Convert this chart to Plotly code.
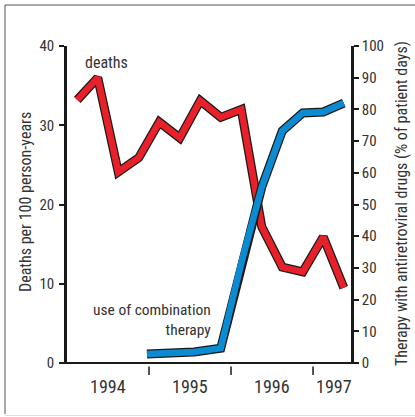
import plotly.graph_objects as go

# ---- data ----
death_x = [1994.125, 1994.375, 1994.625, 1994.875, 1995.125, 1995.375, 1995.625,
           1995.875, 1996.125, 1996.375, 1996.625, 1996.875, 1997.125, 1997.375]
deaths = [33.2, 36.0, 24.1, 25.9, 30.4, 28.4, 33.1, 31.0, 32.0, 17.2, 12.1, 11.5, 15.9, 9.5]

combo_x = [1994.975, 1995.55, 1995.875, 1996.125, 1996.375, 1996.625, 1996.875, 1997.125, 1997.375]
combo = [2.8, 3.5, 4.7, 31.5, 55.5, 73.2, 78.9, 79.2, 82.0]

year_labels = ["1994", "1995", "1996", "1997"]
year_label_pos = [1994.5, 1995.5, 1996.5, 1997.26]
year_ticks = [1995, 1996, 1997]

FONT = "Liberation Sans Narrow, Roboto Condensed, DejaVu Sans Condensed, Arial Narrow, sans-serif"
TXT = "#333333"
RED = "#E8202A"
BLUE = "#0A8BD2"

# ---- pixel geometry ----
W, H = 415, 417
L, R, T, B = 67, 351, 46, 363
pw, ph = R - L, B - T

def px(x):
    return (x - L) / pw

def py(y):
    return (B - y) / ph

fig = go.Figure()
fig.add_trace(go.Scatter(x=combo_x, y=combo, yaxis="y2", mode="lines",
                         line=dict(color="#1a1a1a", width=9), hoverinfo="skip", showlegend=False))
fig.add_trace(go.Scatter(x=combo_x, y=combo, yaxis="y2", mode="lines",
                         line=dict(color=BLUE, width=6.5), showlegend=False))
fig.add_trace(go.Scatter(x=death_x, y=deaths, mode="lines",
                         line=dict(color="#1a1a1a", width=9), hoverinfo="skip", showlegend=False))
fig.add_trace(go.Scatter(x=death_x, y=deaths, mode="lines",
                         line=dict(color=RED, width=6.5), showlegend=False))

annotations = []
for lab, pos in zip(year_labels, year_label_pos):
    annotations.append(dict(x=pos, xref="x", y=py(386), yref="paper", text=lab,
                            showarrow=False, xanchor="center", yanchor="middle",
                            font=dict(family=FONT, size=18, color=TXT)))
annotations += [
    dict(x=px(25), y=py(202), xref="paper", yref="paper", text="Deaths per 100 person-years",
         textangle=-90, showarrow=False, xanchor="center", yanchor="middle",
         font=dict(family=FONT, size=16, color=TXT)),
    dict(x=px(401), y=py(204), xref="paper", yref="paper",
         text="Therapy with antiretroviral drugs (% of patient days)",
         textangle=-90, showarrow=False, xanchor="center", yanchor="middle",
         font=dict(family=FONT, size=16, color=TXT)),
    dict(x=px(83), y=py(62), xref="paper", yref="paper", text="deaths",
         showarrow=False, xanchor="left", yanchor="middle",
         font=dict(family=FONT, size=16, color=TXT)),
    dict(x=px(213), y=py(320), xref="paper", yref="paper", text="use of combination<br>therapy",
         showarrow=False, xanchor="right", yanchor="middle", align="right",
         font=dict(family=FONT, size=15.5, color=TXT)),
]

shapes = [
    # frame
    dict(type="line", xref="paper", yref="paper", x0=px(5), x1=px(5), y0=py(414), y1=py(5),
         line=dict(color="#555555", width=1)),
    dict(type="line", xref="paper", yref="paper", x0=px(5), x1=px(420), y0=py(5), y1=py(5),
         line=dict(color="#555555", width=1)),
    dict(type="line", xref="paper", yref="paper", x0=px(5), x1=px(420), y0=py(415.5), y1=py(415.5),
         line=dict(color="#dddddd", width=1)),
    # extended x axis baseline
    dict(type="line", xref="paper", yref="paper", x0=px(63), x1=px(356), y0=0, y1=0,
         line=dict(color="#1a1a1a", width=2)),
]
# year-boundary tick marks (slightly detached from the axis line)
for t in year_ticks:
    shapes.append(dict(type="line", xref="x", yref="paper", x0=t, x1=t, y0=py(366.5), y1=py(375),
                       line=dict(color="#1a1a1a", width=1.5)))

fig.update_layout(
    width=W, height=H,
    margin=dict(l=L, r=W - R, t=T, b=H - B, pad=0),
    paper_bgcolor="white", plot_bgcolor="white",
    showlegend=False,
    xaxis=dict(range=[1994.0, 1997.463], showticklabels=False, ticks="",
               showgrid=False, zeroline=False, showline=False, fixedrange=True),
    yaxis=dict(range=[0, 40], tickvals=[0, 10, 20, 30, 40], ticks="outside", ticklen=5,
               tickwidth=2, tickcolor="#1a1a1a", showline=True, linecolor="#1a1a1a", linewidth=2.5,
               showgrid=False, zeroline=False, ticklabelstandoff=2,
               tickfont=dict(family=FONT, size=15, color=TXT)),
    yaxis2=dict(range=[0, 100], tickvals=list(range(0, 101, 10)), overlaying="y", side="right",
                ticks="outside", ticklen=5, tickwidth=2, tickcolor="#1a1a1a",
                showline=True, linecolor="#1a1a1a", linewidth=2.5, showgrid=False, zeroline=False,
                tickfont=dict(family=FONT, size=15, color=TXT)),
    annotations=annotations,
    shapes=shapes,
)

fig.write_html(
    "out.html",
    config={"displayModeBar": False},
    post_script="document.body.style.margin='0';document.body.style.overflow='hidden';",
)
